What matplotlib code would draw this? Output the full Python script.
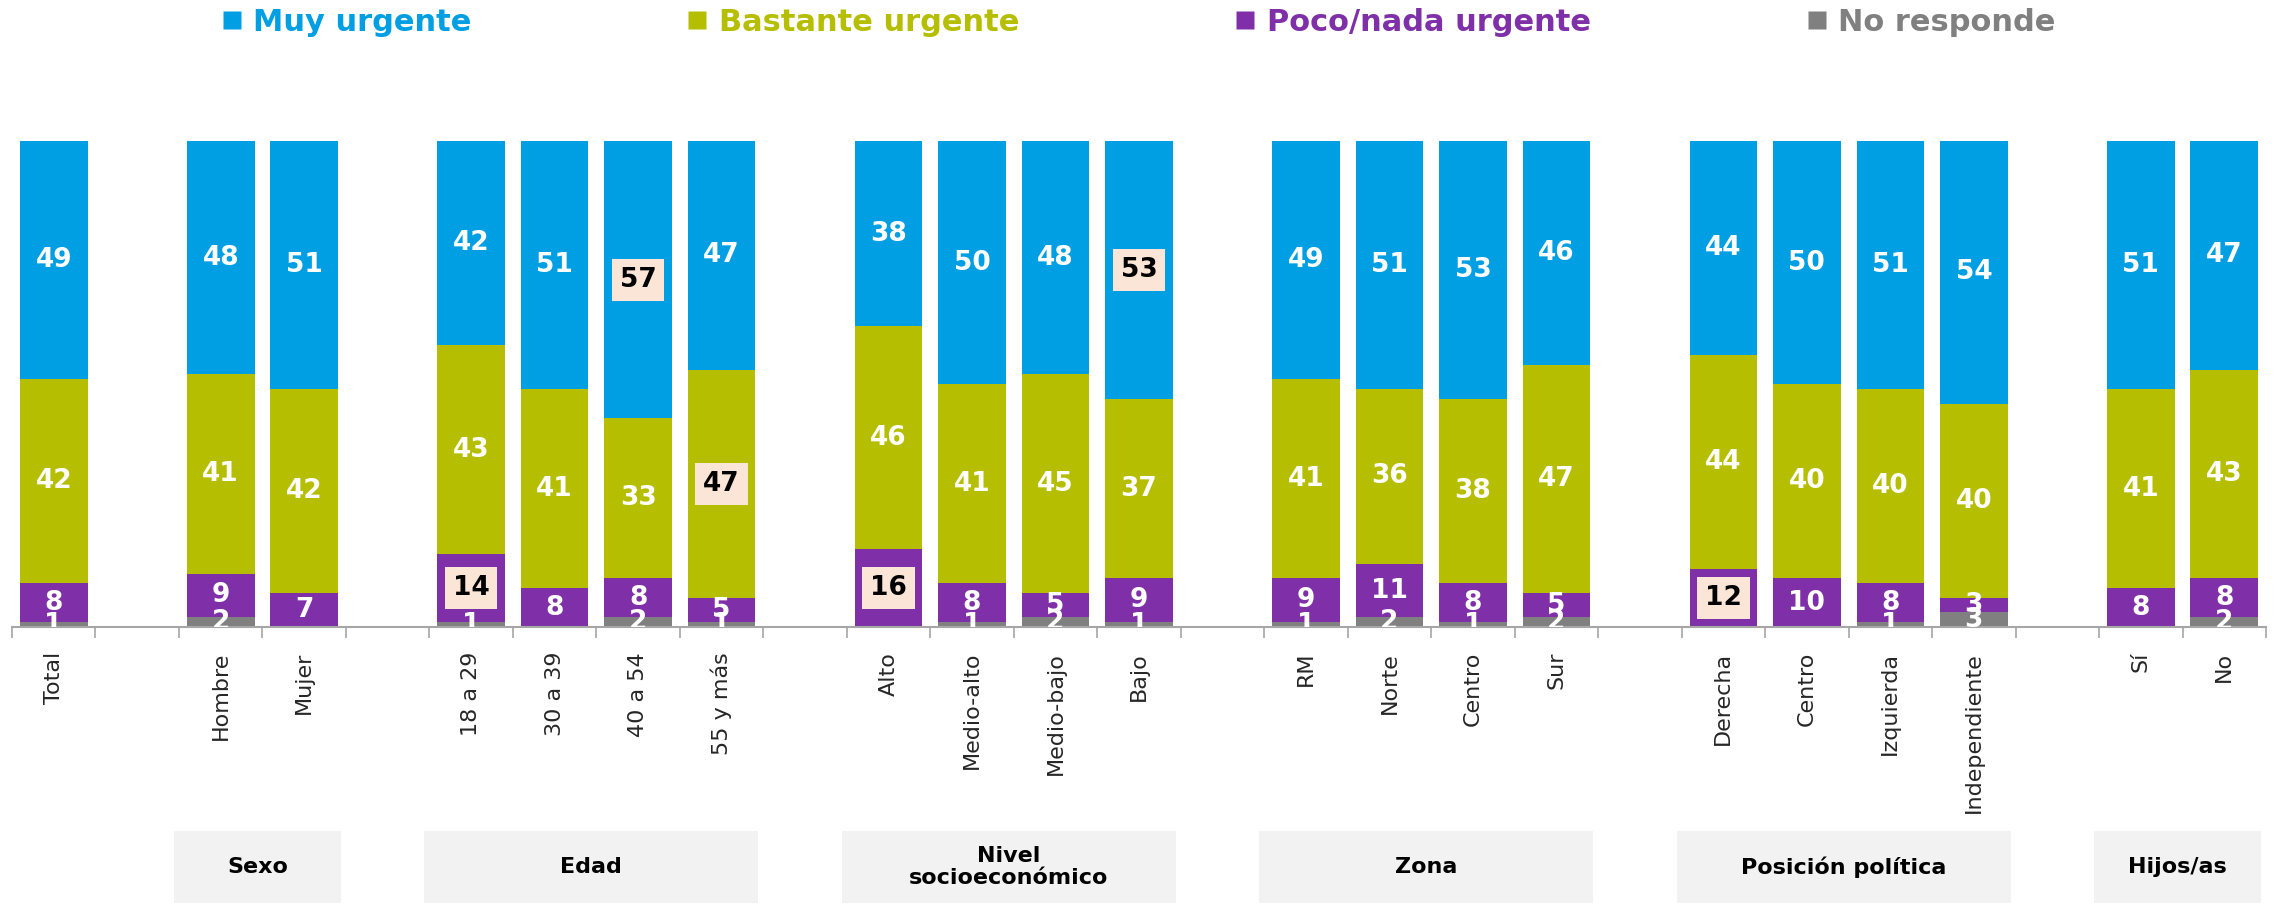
import matplotlib.pyplot as plt
from matplotlib.lines import Line2D
from matplotlib.patches import Rectangle
from matplotlib.transforms import blended_transform_factory

# grupos y categorias (un hueco entre grupos)
GROUPS = ['', 'Sexo', 'Edad', 'Nivel\nsocioeconómico', 'Zona', 'Posición política', 'Hijos/as']
CATEGORIES = [
    ['Total'],
    ['Hombre', 'Mujer'],
    ['18 a 29', '30 a 39', '40 a 54', '55 y más'],
    ['Alto', 'Medio-alto', 'Medio-bajo', 'Bajo'],
    ['RM', 'Norte', 'Centro', 'Sur'],
    ['Derecha', 'Centro', 'Izquierda', 'Independiente'],
    ['Sí', 'No'],
]

# valores en %, mismo orden que las categorias
muy_urgente      = [49, 48, 51, 42, 51, 57, 47, 38, 50, 48, 53, 49, 51, 53, 46, 44, 50, 51, 54, 51, 47]
bastante_urgente = [42, 41, 42, 43, 41, 33, 47, 46, 41, 45, 37, 41, 36, 38, 47, 44, 40, 40, 40, 41, 43]
poco_nada        = [8, 9, 7, 14, 8, 8, 5, 16, 8, 5, 9, 9, 11, 8, 5, 12, 10, 8, 3, 8, 8]
no_responde      = [1, 2, 0, 1, 0, 2, 1, 0, 1, 2, 1, 1, 2, 1, 2, 0, 0, 1, 3, 0, 2]

SERIES = ['No responde', 'Poco/nada urgente', 'Bastante urgente', 'Muy urgente']
COLORS = {'Muy urgente': '#009FE3', 'Bastante urgente': '#B5BE00',
          'Poco/nada urgente': '#7F30A8', 'No responde': '#808080'}

# (indice de categoria, serie) destacados con recuadro
HIGHLIGHTS = [(3, 'Poco/nada urgente'), (5, 'Muy urgente'), (6, 'Bastante urgente'),
              (7, 'Poco/nada urgente'), (10, 'Muy urgente'), (15, 'Poco/nada urgente')]

values = {'Muy urgente': muy_urgente, 'Bastante urgente': bastante_urgente,
          'Poco/nada urgente': poco_nada, 'No responde': no_responde}

# posiciones x: un slot vacio entre grupos
positions, labels, group_spans = [], [], []
slot = 0
for g, cats in enumerate(CATEGORIES):
    start = slot
    for c in cats:
        positions.append(slot)
        labels.append(c)
        slot += 1
    group_spans.append((start, slot - 1))
    slot += 1
n_slots = slot - 1   # 27

W, H = 2275, 906
fig = plt.figure(figsize=(W / 100, H / 100), dpi=100)
ax = fig.add_axes([12 / W, 0.308, (2266 - 12) / W, 0.536])

bottom = [0] * len(positions)
for s in SERIES:
    vals = values[s]
    ax.bar(positions, vals, bottom=bottom, width=0.81, color=COLORS[s], zorder=2)
    for i, (x, v, b) in enumerate(zip(positions, vals, bottom)):
        if v == 0:
            continue
        y = b + v / 2
        if (i, s) in HIGHLIGHTS:
            ax.text(x, y, str(v), ha='center', va='center', fontsize=19, fontweight='bold',
                    color='black', zorder=4,
                    bbox=dict(boxstyle='square,pad=0.3', fc='#FBE5D6', ec='none'))
        else:
            ax.text(x, y, str(v), ha='center', va='center', fontsize=19, fontweight='bold',
                    color='white', zorder=3, clip_on=True)
    bottom = [b + v for b, v in zip(bottom, vals)]

ax.set_xlim(-0.5, n_slots - 0.5)
ax.set_ylim(0, 100)
ax.set_yticks([])
for sp in ['top', 'right', 'left']:
    ax.spines[sp].set_visible(False)
ax.spines['bottom'].set_color('#A6A6A6')
ax.spines['bottom'].set_linewidth(1.5)

ax.set_xticks(positions)
ax.set_xticklabels(labels, rotation=90, fontsize=16, color='#262626')
ax.tick_params(axis='x', which='major', length=0, pad=18)
ax.set_xticks([i - 0.5 for i in range(n_slots + 1)], minor=True)
ax.tick_params(axis='x', which='minor', length=8, width=1.2, color='#A6A6A6')

# cajas de grupo
tr = blended_transform_factory(ax.transData, fig.transFigure)
for name, (a, b) in zip(GROUPS, group_spans):
    if not name:
        continue
    ax.add_patch(Rectangle((a - 0.56, 0.003), b - a + 1, 0.08, transform=tr,
                           facecolor='#F2F2F2', edgecolor='none', clip_on=False))
    ax.text((a + b) / 2 - 0.06, 0.043, name, transform=tr, ha='center', va='center',
            fontsize=16, fontweight='bold', color='black', linespacing=1.1)

# leyenda
handles = [Line2D([], [], marker='s', linestyle='none', markersize=13,
                  markerfacecolor=COLORS[s], markeredgecolor='none') for s in SERIES[::-1]]
fig.legend(handles, SERIES[::-1], loc='upper center', bbox_to_anchor=(0.5, 1.022), ncol=4,
           frameon=False, prop={'weight': 'bold', 'size': 22},
           labelcolor=[COLORS[s] for s in SERIES[::-1]],
           handletextpad=0.3, columnspacing=7.0, handlelength=0.8)

fig.savefig('out.png', dpi=100)
